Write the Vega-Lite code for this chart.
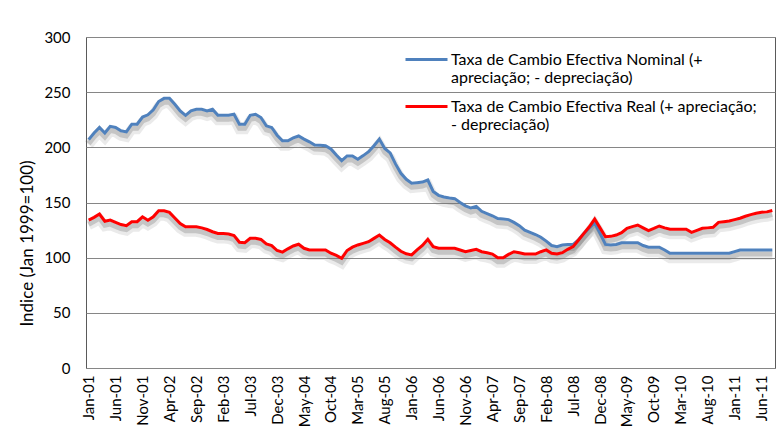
{
  "$schema": "https://vega.github.io/schema/vega-lite/v6.json",
  "width": 689,
  "height": 331,
  "autosize": {"type": "none"},
  "padding": {"left": 86, "top": 37, "right": 2, "bottom": 73},
  "background": "white",
  "config": {"font": "Lato", "view": {"stroke": "#5a5a5a", "strokeWidth": 1}},
  "data": {"values": [
    {"m": "Jan-01", "Nominal": 207, "Real": 134},
    {"m": "Feb-01", "Nominal": 213, "Real": 136.5},
    {"m": "Mar-01", "Nominal": 218, "Real": 139.5},
    {"m": "Apr-01", "Nominal": 213, "Real": 133},
    {"m": "May-01", "Nominal": 219, "Real": 134},
    {"m": "Jun-01", "Nominal": 218, "Real": 132},
    {"m": "Jul-01", "Nominal": 215, "Real": 130},
    {"m": "Aug-01", "Nominal": 214, "Real": 129},
    {"m": "Sep-01", "Nominal": 221, "Real": 132.6},
    {"m": "Oct-01", "Nominal": 221, "Real": 132.6},
    {"m": "Nov-01", "Nominal": 227.5, "Real": 137},
    {"m": "Dec-01", "Nominal": 229.5, "Real": 134},
    {"m": "Jan-02", "Nominal": 234, "Real": 137},
    {"m": "Feb-02", "Nominal": 241.5, "Real": 142.5},
    {"m": "Mar-02", "Nominal": 244.4, "Real": 142.5},
    {"m": "Apr-02", "Nominal": 244.4, "Real": 141},
    {"m": "May-02", "Nominal": 239, "Real": 136},
    {"m": "Jun-02", "Nominal": 233, "Real": 131},
    {"m": "Jul-02", "Nominal": 229, "Real": 128},
    {"m": "Aug-02", "Nominal": 233, "Real": 128},
    {"m": "Sep-02", "Nominal": 234.5, "Real": 128},
    {"m": "Oct-02", "Nominal": 234.5, "Real": 127},
    {"m": "Nov-02", "Nominal": 233, "Real": 125.5},
    {"m": "Dec-02", "Nominal": 234.5, "Real": 123.5},
    {"m": "Jan-03", "Nominal": 229, "Real": 122},
    {"m": "Feb-03", "Nominal": 229, "Real": 122},
    {"m": "Mar-03", "Nominal": 229, "Real": 121.5},
    {"m": "Apr-03", "Nominal": 230, "Real": 120},
    {"m": "May-03", "Nominal": 221, "Real": 114},
    {"m": "Jun-03", "Nominal": 221, "Real": 113.5},
    {"m": "Jul-03", "Nominal": 229, "Real": 117.5},
    {"m": "Aug-03", "Nominal": 230, "Real": 117.5},
    {"m": "Sep-03", "Nominal": 227, "Real": 116.5},
    {"m": "Oct-03", "Nominal": 219.5, "Real": 112.5},
    {"m": "Nov-03", "Nominal": 218, "Real": 111},
    {"m": "Dec-03", "Nominal": 211, "Real": 106.5},
    {"m": "Jan-04", "Nominal": 206, "Real": 105},
    {"m": "Feb-04", "Nominal": 206, "Real": 108},
    {"m": "Mar-04", "Nominal": 208.5, "Real": 110.6},
    {"m": "Apr-04", "Nominal": 210.3, "Real": 112.2},
    {"m": "May-04", "Nominal": 207.5, "Real": 108.5},
    {"m": "Jun-04", "Nominal": 205, "Real": 107},
    {"m": "Jul-04", "Nominal": 202, "Real": 107},
    {"m": "Aug-04", "Nominal": 201.8, "Real": 107},
    {"m": "Sep-04", "Nominal": 201.5, "Real": 107},
    {"m": "Oct-04", "Nominal": 198.5, "Real": 104},
    {"m": "Nov-04", "Nominal": 193, "Real": 102},
    {"m": "Dec-04", "Nominal": 188, "Real": 99.4},
    {"m": "Jan-05", "Nominal": 192.2, "Real": 106.5},
    {"m": "Feb-05", "Nominal": 192.2, "Real": 109.5},
    {"m": "Mar-05", "Nominal": 189.2, "Real": 111.5},
    {"m": "Apr-05", "Nominal": 192.5, "Real": 113},
    {"m": "May-05", "Nominal": 196, "Real": 114.5},
    {"m": "Jun-05", "Nominal": 201.5, "Real": 117.5},
    {"m": "Jul-05", "Nominal": 207.5, "Real": 120.5},
    {"m": "Aug-05", "Nominal": 199, "Real": 116.5},
    {"m": "Sep-05", "Nominal": 195, "Real": 113.5},
    {"m": "Oct-05", "Nominal": 185, "Real": 109.5},
    {"m": "Nov-05", "Nominal": 176.5, "Real": 105.8},
    {"m": "Dec-05", "Nominal": 171, "Real": 103.5},
    {"m": "Jan-06", "Nominal": 167.5, "Real": 102.5},
    {"m": "Feb-06", "Nominal": 168, "Real": 107},
    {"m": "Mar-06", "Nominal": 168.5, "Real": 111},
    {"m": "Apr-06", "Nominal": 170.4, "Real": 116.6},
    {"m": "May-06", "Nominal": 160, "Real": 110},
    {"m": "Jun-06", "Nominal": 156.5, "Real": 108.5},
    {"m": "Jul-06", "Nominal": 155, "Real": 108.5},
    {"m": "Aug-06", "Nominal": 154, "Real": 108.5},
    {"m": "Sep-06", "Nominal": 153.5, "Real": 108.5},
    {"m": "Oct-06", "Nominal": 150, "Real": 107},
    {"m": "Nov-06", "Nominal": 147, "Real": 105.4},
    {"m": "Dec-06", "Nominal": 145, "Real": 106.5},
    {"m": "Jan-07", "Nominal": 146.5, "Real": 107.6},
    {"m": "Feb-07", "Nominal": 142, "Real": 105.4},
    {"m": "Mar-07", "Nominal": 140, "Real": 104.5},
    {"m": "Apr-07", "Nominal": 138, "Real": 103.3},
    {"m": "May-07", "Nominal": 135.5, "Real": 100},
    {"m": "Jun-07", "Nominal": 135, "Real": 100},
    {"m": "Jul-07", "Nominal": 134.5, "Real": 103},
    {"m": "Aug-07", "Nominal": 132, "Real": 105.4},
    {"m": "Sep-07", "Nominal": 129, "Real": 104.5},
    {"m": "Oct-07", "Nominal": 125, "Real": 103.3},
    {"m": "Nov-07", "Nominal": 123, "Real": 103.3},
    {"m": "Dec-07", "Nominal": 121, "Real": 103.3},
    {"m": "Jan-08", "Nominal": 118.5, "Real": 105.4},
    {"m": "Feb-08", "Nominal": 115, "Real": 107},
    {"m": "Mar-08", "Nominal": 111, "Real": 104},
    {"m": "Apr-08", "Nominal": 110, "Real": 103.3},
    {"m": "May-08", "Nominal": 111.5, "Real": 104.5},
    {"m": "Jun-08", "Nominal": 112, "Real": 107.6},
    {"m": "Jul-08", "Nominal": 112, "Real": 110},
    {"m": "Aug-08", "Nominal": 116, "Real": 116},
    {"m": "Sep-08", "Nominal": 122, "Real": 122},
    {"m": "Oct-08", "Nominal": 127, "Real": 128},
    {"m": "Nov-08", "Nominal": 131.5, "Real": 135},
    {"m": "Dec-08", "Nominal": 122, "Real": 127},
    {"m": "Jan-09", "Nominal": 112, "Real": 119},
    {"m": "Feb-09", "Nominal": 111.5, "Real": 119.3},
    {"m": "Mar-09", "Nominal": 112, "Real": 120.5},
    {"m": "Apr-09", "Nominal": 113.5, "Real": 122.6},
    {"m": "May-09", "Nominal": 113.5, "Real": 126.6},
    {"m": "Jun-09", "Nominal": 113.5, "Real": 128.1},
    {"m": "Jul-09", "Nominal": 113.5, "Real": 129.6},
    {"m": "Aug-09", "Nominal": 111, "Real": 127},
    {"m": "Sep-09", "Nominal": 109.5, "Real": 124.5},
    {"m": "Oct-09", "Nominal": 109.5, "Real": 126.5},
    {"m": "Nov-09", "Nominal": 109.5, "Real": 128.7},
    {"m": "Dec-09", "Nominal": 107, "Real": 127},
    {"m": "Jan-10", "Nominal": 104, "Real": 125.7},
    {"m": "Feb-10", "Nominal": 104, "Real": 125.7},
    {"m": "Mar-10", "Nominal": 104, "Real": 125.7},
    {"m": "Apr-10", "Nominal": 104, "Real": 125.7},
    {"m": "May-10", "Nominal": 104, "Real": 123},
    {"m": "Jun-10", "Nominal": 104, "Real": 124.8},
    {"m": "Jul-10", "Nominal": 104, "Real": 126.6},
    {"m": "Aug-10", "Nominal": 104, "Real": 127},
    {"m": "Sep-10", "Nominal": 104, "Real": 127.5},
    {"m": "Oct-10", "Nominal": 104, "Real": 132},
    {"m": "Nov-10", "Nominal": 104, "Real": 132.6},
    {"m": "Dec-10", "Nominal": 104, "Real": 133.2},
    {"m": "Jan-11", "Nominal": 105.5, "Real": 134.5},
    {"m": "Feb-11", "Nominal": 107, "Real": 135.7},
    {"m": "Mar-11", "Nominal": 107, "Real": 137.5},
    {"m": "Apr-11", "Nominal": 107, "Real": 139},
    {"m": "May-11", "Nominal": 107, "Real": 140.2},
    {"m": "Jun-11", "Nominal": 107, "Real": 141.1},
    {"m": "Jul-11", "Nominal": 107, "Real": 141.5},
    {"m": "Aug-11", "Nominal": 107, "Real": 142.8}
  ]},
  "transform": [{"fold": ["Nominal", "Real"], "as": ["serie", "v"]}],
  "encoding": {
    "x": {
      "field": "m", "type": "ordinal", "sort": null,
      "scale": {"type": "point", "padding": 0.5},
      "axis": {
        "values": ["Jan-01","Jun-01","Nov-01","Apr-02","Sep-02","Feb-03","Jul-03","Dec-03","May-04","Oct-04","Mar-05","Aug-05","Jan-06","Jun-06","Nov-06","Apr-07","Sep-07","Feb-08","Jul-08","Dec-08","May-09","Oct-09","Mar-10","Aug-10","Jan-11","Jun-11"],
        "labelAngle": -90, "ticks": false, "domain": false, "grid": false, "title": null,
        "labelFontSize": 15, "labelColor": "black", "labelPadding": 7
      }
    },
    "y": {
      "field": "v", "type": "quantitative",
      "scale": {"domain": [0, 300]},
      "axis": {
        "values": [0, 50, 100, 150, 200, 250, 300],
        "ticks": false, "domain": false, "gridColor": "#868686", "gridOpacity": 1,
        "labelFontSize": 15, "labelColor": "black", "labelPadding": 16,
        "title": "Indice (Jan 1999=100)", "titleFontSize": 17, "titleFontWeight": "normal",
        "titleColor": "black", "titleX": -59, "titleY": 206, "titleAngle": -90,
        "titleBaseline": "middle", "titleAlign": "center"
      }
    }
  },
  "layer": [
    {"mark": {"type": "line", "color": "#6f6f6f", "strokeWidth": 10, "opacity": 0.15, "yOffset": 5}, "encoding": {"detail": {"field": "serie"}}},
    {"mark": {"type": "line", "color": "#6f6f6f", "strokeWidth": 5, "opacity": 0.3, "yOffset": 4}, "encoding": {"detail": {"field": "serie"}}},
    {
      "mark": {"type": "line", "strokeWidth": 3},
      "encoding": {
        "color": {
          "field": "serie", "type": "nominal",
          "scale": {"domain": ["Nominal", "Real"], "range": ["#4F81BD", "#FF0000"]},
          "legend": {
            "orient": "none", "legendX": 318, "legendY": 4, "title": null,
            "symbolType": "stroke", "symbolSize": 1764, "symbolStrokeWidth": 3,
            "labelFontSize": 16, "labelColor": "black", "labelOffset": 2, "labelLimit": 400,
            "rowPadding": 2, "clipHeight": 37,
            "labelExpr": "datum.value == 'Nominal' ? ['Taxa de Cambio Efectiva Nominal (+', 'apreciação; - depreciação)'] : ['Taxa de Cambio Efectiva Real (+ apreciação;', '- depreciação)']"
          }
        }
      }
    }
  ]
}
